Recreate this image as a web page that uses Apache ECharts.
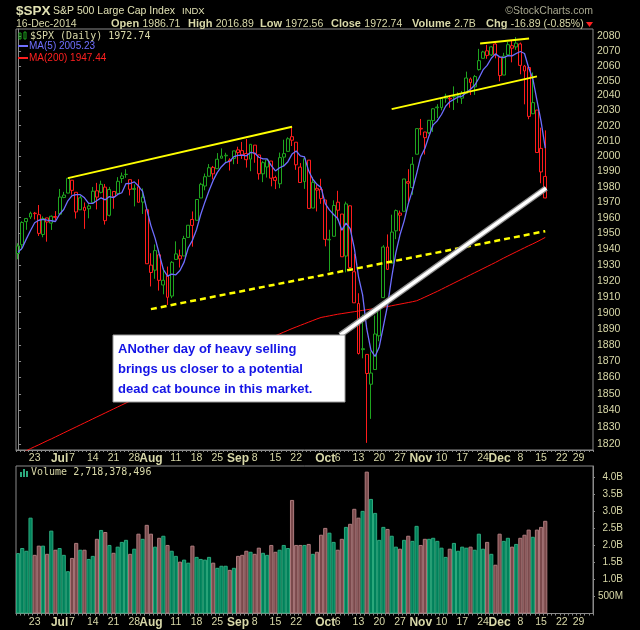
<!DOCTYPE html>
<html><head><meta charset="utf-8">
<script src="https://cdn.jsdelivr.net/npm/echarts@6/dist/echarts.min.js"></script>
<style>html,body{margin:0;padding:0;background:#000;}#c{width:640px;height:630px;}</style>
</head><body><div id="c"></div>
<script>
// ---------- DATA ----------
const dates = ['6/17','6/18','6/19','6/20','6/23','6/24','6/25','6/26','6/27','6/30',
'7/1','7/2','7/3','7/7','7/8','7/9','7/10','7/11','7/14','7/15','7/16','7/17','7/18','7/21','7/22','7/23','7/24','7/25','7/28','7/29','7/30','7/31',
'8/1','8/4','8/5','8/6','8/7','8/8','8/11','8/12','8/13','8/14','8/15','8/18','8/19','8/20','8/21','8/22','8/25','8/26','8/27','8/28','8/29',
'9/2','9/3','9/4','9/5','9/8','9/9','9/10','9/11','9/12','9/15','9/16','9/17','9/18','9/19','9/22','9/23','9/24','9/25','9/26','9/29','9/30',
'10/1','10/2','10/3','10/6','10/7','10/8','10/9','10/10','10/13','10/14','10/15','10/16','10/17','10/20','10/21','10/22','10/23','10/24','10/27','10/28','10/29','10/30','10/31',
'11/3','11/4','11/5','11/6','11/7','11/10','11/11','11/12','11/13','11/14','11/17','11/18','11/19','11/20','11/21','11/24','11/25','11/26','11/28',
'12/1','12/2','12/3','12/4','12/5','12/8','12/9','12/10','12/11','12/12','12/15','12/16',
'12/17','12/18','12/19','12/22','12/23','12/24','12/26','12/29','12/30','12/31','1/2'];

const opens = [1937.15,1942.73,1957.50,1960.45,1962.92,1961.97,1949.27,1959.89,1956.56,1960.79,
1962.29,1973.06,1975.88,1984.22,1976.39,1965.10,1966.67,1965.76,1969.86,1977.36,1976.35,1979.75,1961.54,1976.93,1975.65,1985.32,1988.07,1984.60,1978.25,1980.03,1973.21,1965.14,
1929.80,1926.62,1936.34,1917.29,1923.03,1910.35,1933.43,1935.73,1935.60,1947.41,1958.87,1958.36,1972.73,1980.46,1986.82,1992.60,1991.74,1998.59,2000.54,1997.42,1998.45,
2004.07,2003.57,2001.67,1998.00,2007.17,2000.73,1988.41,1992.85,1996.74,1986.04,1981.93,1999.30,2003.07,2012.74,2009.08,1992.78,1983.34,1997.32,1966.22,1978.96,1978.21,
1971.44,1945.83,1948.12,1970.01,1962.36,1935.55,1967.68,1925.63,1905.65,1877.11,1874.18,1855.95,1864.91,1885.62,1909.38,1941.29,1931.02,1951.59,1962.97,1964.14,1983.29,1979.49,2001.20,
2018.21,2015.81,2015.29,2023.33,2032.36,2032.01,2038.20,2037.75,2039.21,2039.74,2038.29,2041.48,2051.16,2045.87,2057.46,2065.07,2070.15,2067.36,2074.78,
2065.78,2053.77,2067.45,2073.64,2072.78,2074.84,2056.55,2058.86,2027.92,2030.36,2005.03,1986.71];

const highs = [1943.69,1957.74,1959.87,1963.91,1963.74,1968.17,1960.83,1959.89,1961.47,1964.24,
1978.58,1976.67,1985.59,1984.22,1976.39,1974.15,1969.84,1968.67,1979.85,1982.52,1983.94,1981.80,1979.91,1976.93,1986.24,1989.23,1991.39,1984.60,1981.52,1984.85,1978.90,1965.14,
1937.35,1942.92,1936.34,1927.91,1928.89,1932.38,1944.90,1939.65,1948.41,1955.23,1964.04,1971.99,1982.57,1988.57,1994.76,1993.54,2001.95,2005.04,2002.14,1998.55,2003.38,
2006.12,2009.28,2011.17,2007.71,2007.17,2001.01,1996.66,1997.65,1996.74,1987.18,2002.28,2010.74,2012.34,2019.26,2009.08,1995.41,1999.79,1997.32,1986.37,1981.28,1985.17,
1971.44,1952.32,1971.19,1977.37,1962.36,1970.36,1967.68,1936.98,1912.09,1898.71,1874.18,1876.01,1898.16,1905.03,1942.45,1949.31,1961.95,1965.27,1964.64,1985.05,1991.40,1999.40,2018.19,
2024.46,2015.98,2023.77,2031.61,2034.26,2038.70,2041.28,2040.33,2046.18,2042.22,2043.07,2056.08,2052.14,2053.84,2071.46,2070.17,2074.21,2073.29,2075.76,
2065.78,2068.77,2076.28,2077.34,2079.47,2075.78,2060.60,2058.86,2055.53,2030.36,2018.69,2016.89];

const lows = [1933.55,1939.29,1952.26,1959.17,1958.89,1948.34,1947.49,1944.69,1952.18,1958.22,
1962.29,1972.58,1975.88,1974.88,1959.46,1965.10,1952.86,1959.63,1969.86,1965.34,1975.67,1955.59,1960.82,1965.77,1975.65,1982.44,1985.79,1974.37,1967.31,1969.95,1962.42,1930.67,
1916.37,1921.20,1913.77,1911.45,1904.78,1909.01,1933.43,1928.29,1935.60,1947.41,1941.50,1958.36,1972.73,1977.68,1986.82,1984.76,1991.74,1998.59,1996.20,1990.52,1994.65,
1994.85,1998.14,1992.44,1990.10,1995.60,1984.61,1982.99,1985.93,1980.26,1978.48,1979.06,1993.29,2003.07,2006.59,1991.01,1982.77,1978.63,1965.99,1966.22,1964.04,1968.96,
1941.72,1926.03,1948.12,1958.43,1935.10,1925.25,1927.56,1906.05,1874.14,1871.79,1820.66,1835.02,1864.91,1882.30,1909.38,1926.83,1931.02,1946.27,1951.37,1964.14,1969.04,1974.75,2001.20,
2013.68,2001.01,2014.42,2015.86,2025.07,2030.17,2035.28,2031.95,2030.44,2035.20,2034.46,2041.48,2040.37,2040.49,2056.75,2065.07,2064.75,2066.62,2065.06,
2049.57,2053.77,2066.65,2062.34,2070.81,2054.27,2034.17,2024.26,2027.92,2002.33,1982.26,1972.56];

const closes = [1941.99,1956.98,1959.48,1962.87,1962.61,1949.98,1959.53,1957.22,1960.96,1960.23,
1973.32,1974.62,1985.44,1977.65,1963.71,1972.83,1964.68,1967.57,1977.10,1973.28,1981.57,1958.12,1978.22,1973.63,1983.53,1987.01,1987.98,1978.34,1978.91,1969.95,1970.07,1930.67,
1925.15,1938.99,1920.21,1920.24,1909.57,1931.59,1936.92,1933.75,1946.72,1955.18,1955.06,1971.74,1981.60,1986.51,1992.37,1988.40,1997.92,2000.02,2000.12,1996.74,2003.37,
2002.28,2000.72,1997.65,2007.71,2001.54,1988.44,1995.69,1997.45,1985.54,1984.13,1998.98,2001.57,2011.36,2010.40,1994.29,1982.77,1998.30,1965.99,1982.85,1977.80,1972.29,
1946.16,1946.17,1967.90,1964.82,1935.10,1968.89,1928.21,1906.13,1874.74,1877.70,1862.49,1862.76,1886.76,1904.01,1941.28,1927.11,1950.82,1964.58,1961.63,1985.05,1982.30,1994.65,2018.05,
2017.81,2012.10,2023.57,2031.21,2031.92,2038.26,2039.68,2038.25,2039.33,2039.82,2041.32,2051.80,2048.72,2052.75,2063.50,2069.41,2067.03,2072.83,2067.56,
2053.44,2066.55,2074.33,2071.92,2075.37,2060.31,2059.82,2026.14,2035.33,2002.33,1989.63,1972.74];

// closes of the four sessions before the first visible day (for MA(5) and first colour)
const priorCloses = [1943.89,1930.11,1936.16,1937.78];

// volume, billions of shares
const volumes = [1.77,1.92,1.84,2.81,1.72,1.99,1.99,1.75,2.43,1.87,
1.92,1.72,1.24,1.63,2.07,1.87,1.87,1.60,1.69,2.19,2.45,2.39,2.01,1.78,1.96,2.10,2.16,1.75,1.90,2.34,2.19,2.60,
2.34,1.96,2.22,2.28,2.01,1.84,1.69,1.52,1.58,1.49,1.99,1.66,1.60,1.58,1.66,1.49,1.34,1.40,1.40,1.28,1.34,
1.69,1.72,1.84,1.81,1.75,1.93,1.78,1.72,2.01,1.81,1.87,2.01,1.92,3.33,2.01,2.01,2.01,2.04,1.75,1.81,2.31,
2.51,2.37,2.10,1.87,2.19,2.54,2.63,3.07,2.81,3.01,4.16,3.36,2.95,2.16,2.54,2.48,2.28,1.96,1.90,2.16,2.28,2.13,2.57,
2.01,2.19,2.19,2.22,2.13,1.93,1.66,1.90,2.07,1.84,1.96,1.93,1.96,1.87,2.34,1.90,2.10,1.75,1.43,
2.34,2.13,2.22,1.96,2.04,2.22,2.31,2.46,2.25,2.46,2.54,2.718];

// 200-day moving average
const ma200 = [1813.6,1814.8,1816.0,1817.2,1818.4,1819.5,1820.7,1821.9,1823.0,1824.2,
1825.4,1826.6,1827.8,1829.0,1830.2,1831.4,1832.6,1833.8,1835.0,1836.2,1837.4,1838.6,1839.8,1841.0,1842.2,1843.4,1844.6,1845.8,1847.0,1848.1,1849.2,1850.3,
1851.4,1852.5,1853.6,1854.7,1855.8,1856.9,1858.0,1859.1,1860.2,1861.3,1862.4,1863.5,1864.6,1865.8,1867.0,1868.2,1869.4,1870.6,1871.8,1873.0,1874.2,
1875.4,1876.6,1877.8,1879.0,1880.2,1881.3,1882.4,1883.5,1884.6,1885.7,1886.8,1887.9,1889.0,1890.1,1891.1,1892.1,1893.1,1894.1,1895.1,1896.1,1897.0,
1897.5,1898.0,1898.5,1899.0,1899.4,1899.8,1900.2,1900.6,1901.0,1901.4,1901.8,1902.2,1902.6,1903.0,1903.4,1903.8,1904.3,1904.8,1905.3,1905.8,1906.3,1906.8,1907.4,
1908.5,1909.7,1910.9,1912.1,1913.3,1914.6,1915.9,1917.2,1918.5,1919.8,1921.1,1922.4,1923.7,1925.0,1926.3,1927.6,1928.9,1930.2,1931.5,
1932.9,1934.3,1935.6,1936.9,1938.2,1939.5,1940.8,1942.1,1943.3,1944.6,1946.0,1947.4];

const tickLabels = [['6/23','23'],['7/1','Jul'],['7/7','7'],['7/14','14'],['7/21','21'],['7/28','28'],
['8/1','Aug'],['8/11','11'],['8/18','18'],['8/25','25'],['9/2','Sep'],['9/8','8'],['9/15','15'],['9/22','22'],
['10/1','Oct'],['10/6','6'],['10/13','13'],['10/20','20'],['10/27','27'],['11/3','Nov'],['11/10','10'],['11/17','17'],['11/24','24'],
['12/1','Dec'],['12/8','8'],['12/15','15'],['12/22','22'],['12/29','29']];
const monthLabels = ['Jul','Aug','Sep','Oct','Nov','Dec'];
const priceTicks = [1820,1830,1840,1850,1860,1870,1880,1890,1900,1910,1920,1930,1940,1950,1960,1970,1980,1990,2000,2010,2020,2030,2040,2050,2060,2070,2080];
const volumeTicks = [0.5,1.0,1.5,2.0,2.5,3.0,3.5,4.0];

// hand-drawn annotation lines: [session index, price]
const channelUpper1 = [[12, 1985.6], [66, 2019.3]];
const channelUpper2 = [[90, 2031.0], [125, 2052.9]];
const topLine = [[111.3, 2075.2], [123.1, 2078.6]];
const supportDashed = [[32, 1902.2], [127, 1951.4]];
const calloutLine = [[77.6, 1886.1], [127.2, 1979.1]];
const calloutText = ['ANother day of heavy selling', 'brings us closer to a potential', 'dead cat bounce in this market.'];

// ---------- CHART ----------
const GREEN = '#1fa51f', RED = '#ff1c1c';
const VG = '#00815b', VGB = '#2ca97d', VR = '#7a4a4c', VRB = '#ae7b7d';
const TXT = '#d8d8a8', AX = '#8a8a8a';

const labelMap = {};
tickLabels.forEach(t => labelMap[t[0]] = t[1]);

const up = closes.map((c, i) => c >= (i ? closes[i - 1] : priorCloses[priorCloses.length - 1]));
const candleData = closes.map((c, i) => {
  const col = up[i] ? GREEN : RED;
  return { value: [opens[i], c, lows[i], highs[i]],
    itemStyle: { color: 'rgba(0,0,0,0)', color0: col, borderColor: col, borderColor0: col } };
});
const allC = priorCloses.concat(closes);
const ma5 = closes.map((c, i) => {
  let s = 0; for (let k = 0; k < 5; k++) s += allC[i + 4 - k];
  return +(s / 5).toFixed(2);
});
const volData = volumes.map((v, i) => ({ value: v,
  itemStyle: { color: up[i] ? VG : VR, borderColor: up[i] ? VGB : VRB } }));

function xLabelCfg(margin) {
  return {
    interval: (idx, val) => labelMap[val] !== undefined,
    formatter: (val) => {
      const t = labelMap[val];
      if (t === undefined) return '';
      return monthLabels.indexOf(t) >= 0 ? '{m|' + t + '}' : '{n|' + t + '}';
    },
    margin: margin,
    rich: {
      m: { fontFamily: 'Liberation Sans', fontWeight: 'bold', fontSize: 12, color: TXT },
      n: { fontFamily: 'Liberation Sans', fontSize: 10.5, color: TXT }
    }
  };
}

function annot(data, color, width, type, z) {
  return { type: 'line', xAxisIndex: 2, yAxisIndex: 0, data: data, symbol: 'none', silent: true,
    lineStyle: { color: color, width: width, type: type }, z: z, animation: false };
}

const gfx = [];
function txt(x, y, text, font, fill, align) {
  gfx.push({ type: 'text', x: x, y: y, z: 200, silent: true,
    style: { text: text, font: font, fill: fill, align: align || 'left', verticalAlign: 'middle' } });
}
function rich(x, y, label, value) {
  gfx.push({ type: 'text', x: x, y: y, z: 200, silent: true,
    style: { text: '{b|' + label + '} {v|' + value + '}', align: 'left', verticalAlign: 'middle',
      rich: { b: { font: 'bold 11px "Liberation Sans"', fill: TXT }, v: { font: '10.5px "Liberation Sans"', fill: TXT } } } });
}
// header
txt(16, 11, '$SPX', 'bold 13.5px "Liberation Sans"', '#e0e0b2');
txt(53, 11, 'S&P 500 Large Cap Index', '10.5px "Liberation Sans"', '#e0e0b2');
txt(182, 11, 'INDX', '9.5px "Liberation Sans"', '#e0e0b2');
txt(593, 11, '\u00A9StockCharts.com', '10.5px "Liberation Sans"', '#a8a890', 'right');
txt(16, 24, '16-Dec-2014', '10.5px "Liberation Sans"', TXT);
rich(111, 24, 'Open', '1986.71');
rich(188, 24, 'High', '2016.89');
rich(260, 24, 'Low', '1972.56');
rich(331, 24, 'Close', '1972.74');
rich(412, 24, 'Volume', '2.7B');
rich(486, 24, 'Chg', '-16.89 (-0.85%)');
gfx.push({ type: 'polygon', z: 200, silent: true, shape: { points: [[586, 22], [593, 22], [589.5, 27]] }, style: { fill: '#ff2020' } });
// price legend
gfx.push({ type: 'rect', z: 200, silent: true, shape: { x: 19, y: 33, width: 2, height: 6 }, style: { fill: 'none', stroke: GREEN, lineWidth: 1 } });
gfx.push({ type: 'rect', z: 200, silent: true, shape: { x: 24, y: 32, width: 2, height: 7 }, style: { fill: 'none', stroke: GREEN, lineWidth: 1 } });
txt(30, 36, '$SPX (Daily) 1972.74', '10px "DejaVu Sans Mono"', TXT);
gfx.push({ type: 'line', z: 200, silent: true, shape: { x1: 18, y1: 46, x2: 28, y2: 46 }, style: { stroke: '#7070ff', lineWidth: 2 } });
txt(29, 46, 'MA(5) 2005.23', '10px "Liberation Sans"', '#7070ff');
gfx.push({ type: 'line', z: 200, silent: true, shape: { x1: 18, y1: 58, x2: 28, y2: 58 }, style: { stroke: '#ff2020', lineWidth: 2 } });
txt(29, 58, 'MA(200) 1947.44', '10px "Liberation Sans"', '#ff2020');
// volume legend
[[20, 3], [23, 6], [26, 4]].forEach(b => gfx.push({ type: 'rect', z: 200, silent: true, shape: { x: b[0], y: 477 - b[1] - 2, width: 2, height: b[1] + 2 }, style: { fill: VGB } }));
txt(31, 472, 'Volume 2,718,378,496', '10px "DejaVu Sans Mono"', TXT);
// callout box
gfx.push({ type: 'rect', z: 150, silent: true, shape: { x: 113, y: 335, width: 232, height: 67 }, style: { fill: '#ffffff', stroke: '#9a9a9a', lineWidth: 1 } });
calloutText.forEach((t, i) => txt(118, 349 + i * 20, t, 'bold 13px "Liberation Sans"', '#1414e6'));

const option = {
  backgroundColor: '#000',
  animation: false,
  grid: [
    { left: 16, right: 47, top: 29, height: 421, show: true, borderColor: AX, borderWidth: 1, backgroundColor: '#000', containLabel: false, outerBoundsMode: 'none' },
    { left: 16, right: 47, top: 466, height: 147.5, show: true, borderColor: AX, borderWidth: 1, backgroundColor: '#000', containLabel: false, outerBoundsMode: 'none' }
  ],
  xAxis: [
    { type: 'category', gridIndex: 0, data: dates, boundaryGap: true,
      axisLine: { show: true, lineStyle: { color: AX } },
      axisTick: { show: true, interval: 0, length: 2, lineStyle: { color: AX } },
      axisLabel: xLabelCfg(3), splitLine: { show: false } },
    { type: 'category', gridIndex: 1, data: dates, boundaryGap: true,
      axisLine: { show: true, lineStyle: { color: AX } },
      axisTick: { show: true, interval: 0, length: 2, lineStyle: { color: AX } },
      axisLabel: xLabelCfg(3), splitLine: { show: false } },
    { type: 'value', gridIndex: 0, min: -0.5, max: dates.length - 0.5, show: false }
  ],
  yAxis: [
    { type: 'log', logBase: 10, gridIndex: 0, position: 'right', min: 1816.4, max: 2085, scale: true,
      axisLine: { show: true, lineStyle: { color: AX } },
      axisTick: { show: true, length: 3, customValues: priceTicks, lineStyle: { color: AX } },
      axisLabel: { customValues: priceTicks, formatter: v => String(Math.round(v)), color: TXT,
        fontFamily: 'Liberation Sans', fontSize: 10.5, margin: 4 },
      splitLine: { show: false } },
    { type: 'value', gridIndex: 1, position: 'right', min: 0, max: 4.325,
      axisLine: { show: true, lineStyle: { color: AX } },
      axisTick: { show: true, length: 2, customValues: volumeTicks, lineStyle: { color: AX } },
      axisLabel: { customValues: volumeTicks, formatter: v => v < 1 ? Math.round(v * 1000) + 'M' : v.toFixed(1) + 'B',
        color: TXT, fontFamily: 'Liberation Sans', fontSize: 10, margin: 30, align: 'right' },
      splitLine: { show: false } }
  ],
  series: [
    { type: 'line', xAxisIndex: 0, yAxisIndex: 0, data: ma200, symbol: 'none', silent: true,
      lineStyle: { color: '#ff1010', width: 1 }, z: 2 },
    { type: 'candlestick', xAxisIndex: 0, yAxisIndex: 0, data: candleData, barWidth: 3.4,
      itemStyle: { borderWidth: 1 }, z: 3 },
    { type: 'line', xAxisIndex: 0, yAxisIndex: 0, data: ma5, symbol: 'none', silent: true,
      lineStyle: { color: '#6e6eff', width: 1.3 }, z: 4 },
    annot(channelUpper1, '#ffff00', 2, 'solid', 5),
    annot(channelUpper2, '#ffff00', 2, 'solid', 5),
    annot(topLine, '#ffff00', 2, 'solid', 5),
    annot(supportDashed, '#ffff00', 2.5, [6, 4], 5),
    annot(calloutLine, '#8c8c8c', 6, 'solid', 6),
    annot(calloutLine, '#ffffff', 3.5, 'solid', 7),
    { type: 'bar', xAxisIndex: 1, yAxisIndex: 1, data: volData, barCategoryGap: '0%',
      itemStyle: { borderWidth: 1 }, silent: true }
  ],
  graphic: gfx
};

const chart = echarts.init(document.getElementById('c'), null, { width: 640, height: 630 });
chart.setOption(option);
</script>
</body></html>
